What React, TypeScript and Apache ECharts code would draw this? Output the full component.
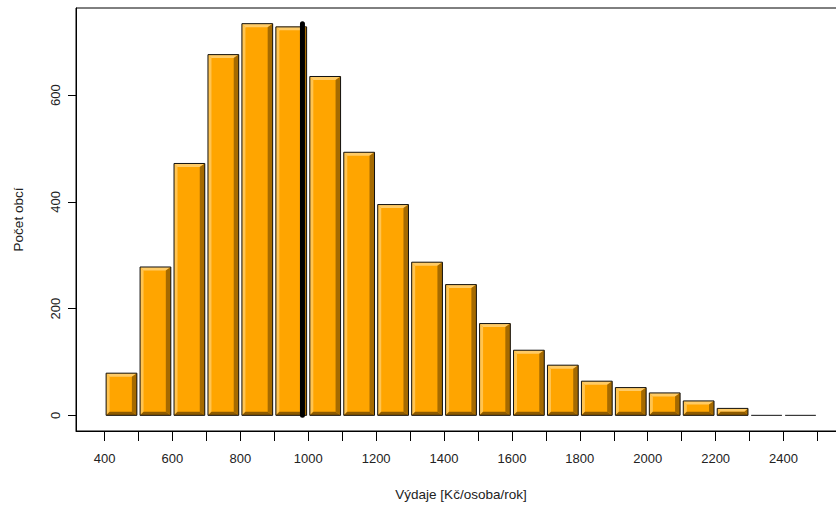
import { useEffect, useRef } from "react";
import * as echarts from "echarts";

// Histogram bins (lower/upper edges) and counts
const binEdges = [400, 500, 600, 700, 800, 900, 1000, 1100, 1200, 1300, 1400, 1500, 1600, 1700, 1800, 1900, 2000, 2100, 2200, 2300, 2400, 2500];
const binCounts = [79, 278, 472, 676, 734, 728, 635, 493, 395, 287, 245, 172, 122, 94, 64, 52, 42, 27, 13, 0, 0];
const meanValue = 983;

const xTickValues = [400, 500, 600, 700, 800, 900, 1000, 1100, 1200, 1300, 1400, 1500, 1600, 1700, 1800, 1900, 2000, 2100, 2200, 2300, 2400, 2500];
const xLabelValues = [400, 600, 800, 1000, 1200, 1400, 1600, 1800, 2000, 2200, 2400];
const yTickValues = [0, 200, 400, 600];

const xTitle = "Výdaje [Kč/osoba/rok]";
const yTitle = "Počet obcí";

const FONT = "'Liberation Sans', Arial, sans-serif";

export default function App() {
  const ref = useRef<HTMLDivElement>(null);

  useEffect(() => {
    if (!ref.current) return;
    const chart = echarts.init(ref.current, null, { renderer: "svg" });

    const first = binEdges[0];
    const last = binEdges[binEdges.length - 1];
    const xPad = 0.04 * (last - first);
    const maxCount = Math.max(...binCounts);
    const yPad = 0.04 * maxCount;

    const histData = binCounts.map((c, i) => [binEdges[i], binEdges[i + 1], c]);

    const renderItem = (_params: any, api: any) => {
      const a = api.value(0);
      const b = api.value(1);
      const c = api.value(2);
      const tl = api.coord([a, c]);
      const brc = api.coord([b, 0]);
      const x0 = tl[0] + 1.6;
      const x1 = brc[0] - 1.6;
      const y0 = tl[1];
      const y1 = brc[1];
      const h = y1 - y0;
      if (h < 1) {
        return {
          type: "line",
          shape: { x1: x0, y1: y1, x2: x1, y2: y1 },
          style: { stroke: "#111", lineWidth: 1 },
        };
      }
      const bl = Math.min(3.5, h / 2);
      const bR = Math.min(5, h / 2);
      const bt = Math.min(3.5, h / 2);
      const bb = Math.min(3.5, h / 2);
      return {
        type: "group",
        children: [
          { type: "rect", shape: { x: x0, y: y0, width: x1 - x0, height: h }, style: { fill: "#FFA500" } },
          { type: "polygon", shape: { points: [[x0, y0], [x0 + bl, y0 + bt], [x0 + bl, y1 - bb], [x0, y1]] }, style: { fill: "#FFC451" } },
          { type: "polygon", shape: { points: [[x0, y0], [x1, y0], [x1 - bR, y0 + bt], [x0 + bl, y0 + bt]] }, style: { fill: "#FFCB66" } },
          { type: "polygon", shape: { points: [[x1, y0], [x1, y1], [x1 - bR, y1 - bb], [x1 - bR, y0 + bt]] }, style: { fill: "#A56A00" } },
          { type: "polygon", shape: { points: [[x0, y1], [x1, y1], [x1 - bR, y1 - bb], [x0 + bl, y1 - bb]] }, style: { fill: "#8E5B00" } },
          { type: "rect", shape: { x: x0, y: y0, width: x1 - x0, height: h }, style: { fill: "none", stroke: "#111", lineWidth: 1 } },
        ],
      };
    };

    const option: any = {
      animation: false,
      backgroundColor: "#ffffff",
      grid: {
        left: 76,
        right: -10,
        top: 8,
        bottom: 77,
        show: true,
        borderColor: "#000",
        borderWidth: 1,
        containLabel: false,
        outerBoundsMode: "none",
      },
      xAxis: {
        type: "value",
        min: first - xPad,
        max: last + xPad,
        axisLine: { show: true, onZero: false, lineStyle: { color: "#000", width: 1 } },
        axisTick: { show: true, customValues: xTickValues, length: 10, lineStyle: { color: "#000", width: 1 } },
        axisLabel: {
          customValues: xLabelValues,
          margin: 21,
          fontSize: 13,
          color: "#222",
          fontFamily: FONT,
          formatter: (v: number) => String(v),
        },
        splitLine: { show: false },
        name: xTitle,
        nameLocation: "middle",
        nameGap: 56,
        nameTextStyle: { fontSize: 13.5, color: "#222", fontFamily: FONT },
      },
      yAxis: {
        type: "value",
        min: -yPad,
        max: maxCount + yPad,
        axisLine: { show: true, lineStyle: { color: "#000", width: 1 } },
        axisTick: { show: true, customValues: yTickValues, length: 8, lineStyle: { color: "#000", width: 1 } },
        axisLabel: {
          customValues: yTickValues,
          rotate: 90,
          margin: 14,
          fontSize: 13,
          color: "#222",
          fontFamily: FONT,
          formatter: (v: number) => String(v),
        },
        splitLine: { show: false },
        name: yTitle,
        nameLocation: "middle",
        nameRotate: 90,
        nameGap: 51,
        nameTextStyle: { fontSize: 13.5, color: "#222", fontFamily: FONT },
      },
      series: [
        {
          type: "custom",
          data: histData,
          encode: { x: [0, 1], y: 2 },
          renderItem,
          clip: false,
          z: 2,
        },
        {
          type: "line",
          data: [[meanValue, 0], [meanValue, maxCount]],
          symbol: "none",
          lineStyle: { color: "#000", width: 5, cap: "round" },
          z: 5,
          silent: true,
        },
      ],
    };

    chart.setOption(option);
    return () => chart.dispose();
  }, []);

  return (
    <div
      ref={ref}
      style={{ position: "fixed", left: 0, top: 0, width: 836, height: 508, background: "#fff" }}
    />
  );
}
